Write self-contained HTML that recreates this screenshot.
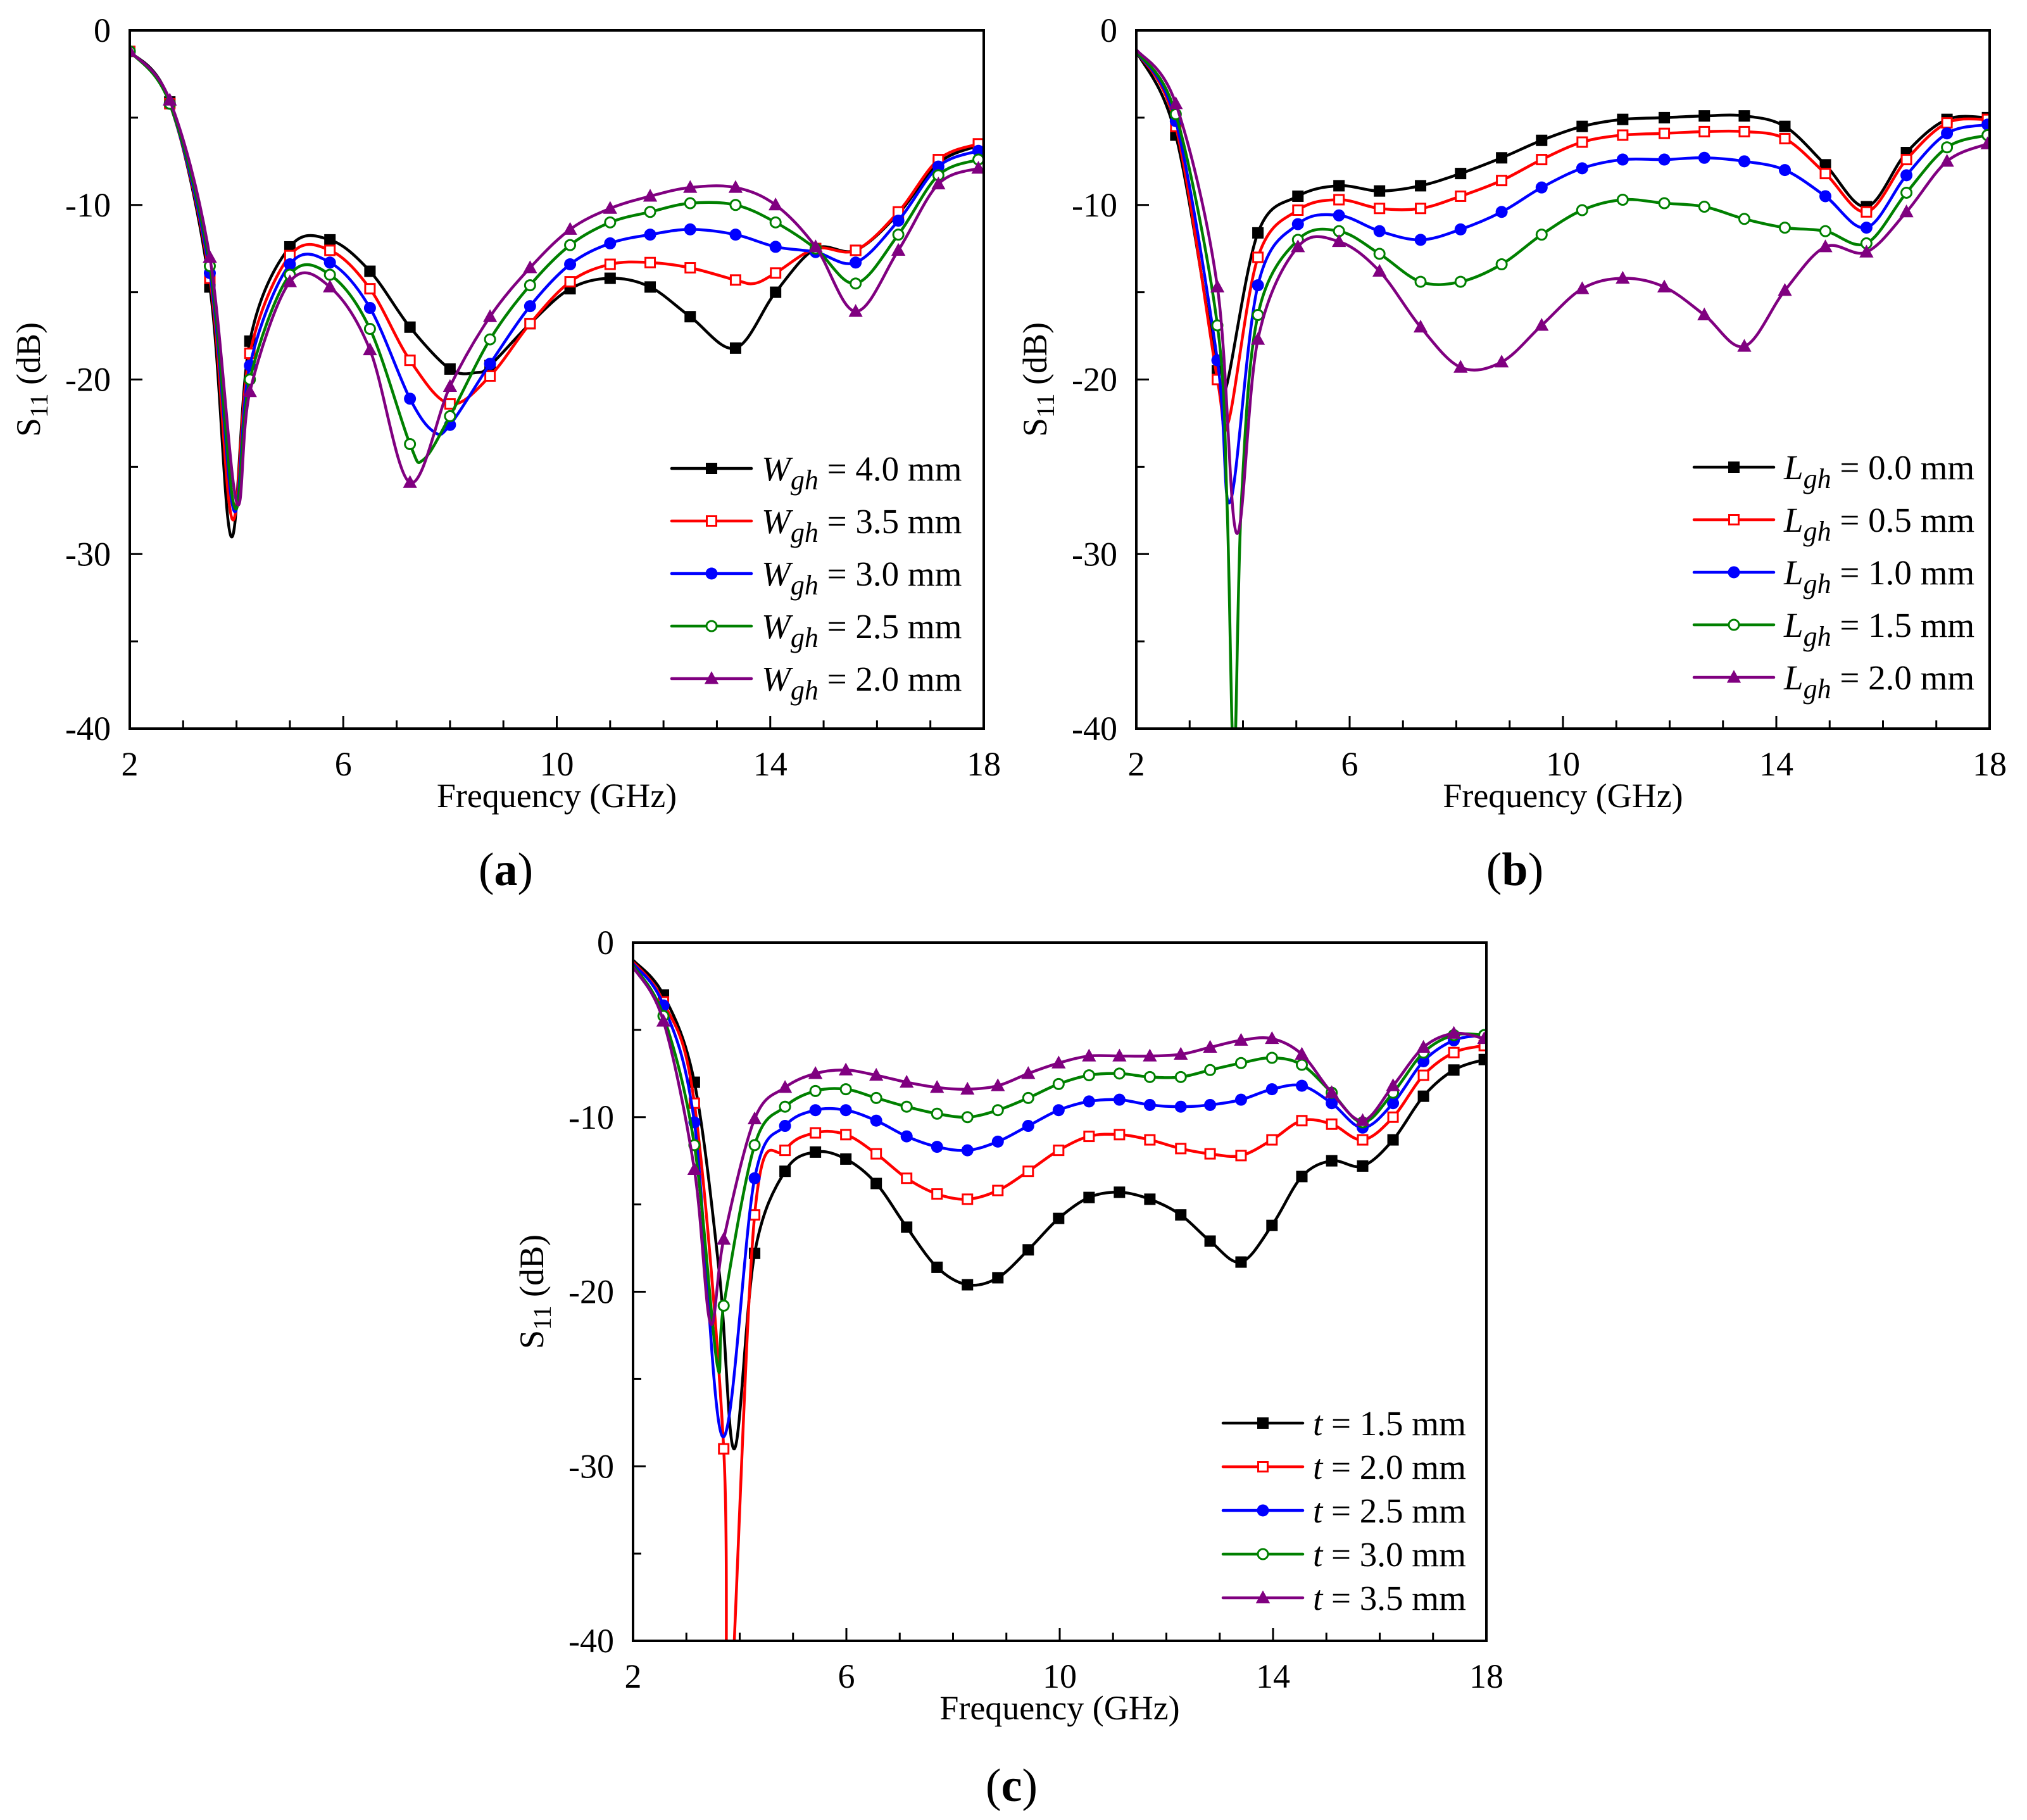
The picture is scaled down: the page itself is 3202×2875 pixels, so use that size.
<!DOCTYPE html>
<html><head><meta charset="utf-8"><style>
html,body{margin:0;padding:0;background:#fff;}
svg{display:block;font-family:"Liberation Serif",serif;}
svg text{font-family:"Liberation Serif",serif;}
</style></head><body>
<svg id="fig" width="3202" height="2875" viewBox="0 0 3202 2875" xmlns="http://www.w3.org/2000/svg" font-family="Liberation Serif, serif"></svg>
<script>
// ===== Panel (a) data: W_gh sweep =====
const aMarkF = [2,2.75,3.5,4.25,5,5.75,6.5,7.25,8,8.75,9.5,10.25,11,11.75,12.5,13.35,14.1,14.85,15.6,16.4,17.15,17.9];
const aF40 = [2,2.75,3.5,3.9,4.25,5,5.75,6.5,7.25,8,8.5,8.75,9.5,10.25,11,11.75,12.5,13.35,14.1,14.85,15.6,16.4,17.15,17.9];
const aV40 = [-1.2,-4.1,-14.7,-29,-17.8,-12.4,-12.0,-13.8,-17.0,-19.4,-19.6,-19.2,-16.8,-14.8,-14.2,-14.7,-16.4,-18.2,-15.0,-12.5,-12.6,-10.5,-7.6,-6.6];
const aF35 = [2,2.75,3.5,3.92,4.25,5,5.75,6.5,7.25,8,8.75,9.5,10.25,11,11.75,12.5,13.35,13.7,14.1,14.85,15.6,16.4,17.15,17.9];
const aV35 = [-1.2,-4.2,-14.2,-28,-18.5,-12.9,-12.6,-14.8,-18.9,-21.4,-19.8,-16.8,-14.4,-13.4,-13.3,-13.6,-14.3,-14.5,-13.9,-12.5,-12.6,-10.4,-7.4,-6.5];
const aF30 = [2,2.75,3.5,3.95,4.25,5,5.75,6.5,7.25,7.7,8,8.75,9.5,10.25,11,11.75,12.5,13.35,14.1,14.85,15.6,16.4,17.15,17.9];
const aV30 = [-1.2,-4.2,-13.9,-27.5,-19.2,-13.4,-13.3,-15.9,-21.1,-23,-22.6,-19.1,-15.8,-13.4,-12.2,-11.7,-11.4,-11.7,-12.4,-12.7,-13.3,-10.9,-7.8,-6.9];
const aF25 = [2,2.75,3.5,3.96,4.25,5,5.75,6.5,7.25,7.5,8,8.75,9.5,10.25,11,11.75,12.5,13.35,14.1,14.85,15.6,16.4,17.15,17.9];
const aV25 = [-1.2,-4.2,-13.5,-27.3,-20.0,-14.0,-14.0,-17.1,-23.7,-24.6,-22.1,-17.7,-14.6,-12.3,-11.0,-10.4,-9.9,-10.0,-11.0,-12.5,-14.5,-11.7,-8.3,-7.4];
const aF20 = [2,2.75,3.5,4.0,4.25,5,5.75,6.5,7.25,8,8.75,9.5,10.25,11,11.75,12.5,13.35,14.1,14.85,15.6,16.4,17.15,17.9];
const aV20 = [-1.2,-4.0,-13.0,-27,-20.7,-14.4,-14.7,-18.3,-25.9,-20.4,-16.4,-13.6,-11.4,-10.2,-9.5,-9.0,-9.0,-10.0,-12.4,-16.1,-12.6,-8.8,-7.9];
// ===== Panel (b) data: L_gh sweep =====
const bMarkF = [2.74,3.52,4.28,5.03,5.8,6.56,7.33,8.08,8.85,9.6,10.36,11.12,11.9,12.65,13.4,14.16,14.92,15.69,16.44,17.2,17.96];
const bF00 = [2,2.74,3.52,3.68,4.28,5.03,5.8,6.56,7.33,8.08,8.85,9.6,10.36,11.12,11.9,12.65,13.4,14.16,14.92,15.69,16.44,17.2,17.96];
const bV00 = [-1.2,-6.0,-19.5,-20.5,-11.6,-9.5,-8.9,-9.2,-8.9,-8.2,-7.3,-6.3,-5.5,-5.1,-5.0,-4.9,-4.9,-5.5,-7.7,-10.1,-7.0,-5.1,-5.0];
const bF05 = [2,2.74,3.52,3.72,4.28,5.03,5.8,6.56,7.33,8.08,8.85,9.6,10.36,11.12,11.9,12.65,13.4,14.16,14.92,15.69,16.44,17.2,17.96];
const bV05 = [-1.2,-5.5,-20.0,-22.5,-13.0,-10.3,-9.7,-10.2,-10.2,-9.5,-8.6,-7.4,-6.4,-6.0,-5.9,-5.8,-5.8,-6.2,-8.2,-10.4,-7.4,-5.3,-5.1];
const bF10 = [2,2.74,3.52,3.76,4.28,5.03,5.8,6.56,7.33,8.08,8.85,9.6,10.36,11.12,11.9,12.65,13.4,14.16,14.92,15.69,16.44,17.2,17.96];
const bV10 = [-1.2,-5.2,-18.9,-27,-14.6,-11.1,-10.6,-11.5,-12.0,-11.4,-10.4,-9.0,-7.9,-7.4,-7.4,-7.3,-7.5,-8.0,-9.5,-11.3,-8.3,-5.9,-5.4];
const bF15 = [2,2.74,3.52,3.7,3.83,3.97,4.28,5.03,5.8,6.56,7.33,8.08,8.85,9.6,10.36,11.12,11.9,12.65,13.4,14.16,14.92,15.69,16.44,17.2,17.96];
const bV15 = [-1.2,-4.8,-16.9,-27,-42,-27,-16.3,-12.0,-11.5,-12.8,-14.4,-14.4,-13.4,-11.7,-10.3,-9.7,-9.9,-10.1,-10.8,-11.3,-11.5,-12.2,-9.3,-6.7,-6.0];
const bF20 = [2,2.74,3.52,3.88,4.28,5.03,5.8,6.56,7.33,8.08,8.85,9.6,10.36,11.12,11.9,12.65,13.4,14.16,14.92,15.69,16.44,17.2,17.96];
const bV20 = [-1.1,-4.2,-14.7,-28.8,-17.7,-12.4,-12.1,-13.8,-17.0,-19.3,-19.0,-16.9,-14.8,-14.2,-14.7,-16.3,-18.1,-14.9,-12.4,-12.7,-10.4,-7.5,-6.5];
// ===== Panel (c) data: t sweep =====
const cMarkF = [2.57,3.15,3.7,4.28,4.85,5.42,5.99,6.56,7.13,7.7,8.27,8.84,9.41,9.98,10.55,11.12,11.69,12.27,12.82,13.4,13.98,14.54,15.1,15.68,16.25,16.82,17.39,17.96];
const cF15 = [2,2.57,3.15,3.62,3.9,4.28,4.85,5.42,5.99,6.56,7.13,7.7,8.27,8.84,9.41,9.98,10.55,11.12,11.69,12.27,12.82,13.4,13.98,14.54,15.1,15.68,16.25,16.82,17.39,17.96];
const cV15 = [-1.0,-3.0,-8.0,-19,-29,-17.8,-13.1,-12.0,-12.4,-13.8,-16.3,-18.6,-19.6,-19.2,-17.6,-15.8,-14.6,-14.3,-14.7,-15.6,-17.1,-18.3,-16.2,-13.4,-12.5,-12.8,-11.3,-8.8,-7.3,-6.7];
const cF20 = [2,2.57,3.15,3.7,3.79,4.28,4.85,5.42,5.99,6.56,7.13,7.7,8.27,8.84,9.41,9.98,10.55,11.12,11.69,12.27,12.82,13.4,13.98,14.54,15.1,15.68,16.25,16.82,17.39,17.96];
const cV20 = [-1.1,-3.4,-9.2,-29,-46,-15.6,-11.9,-10.9,-11.0,-12.1,-13.5,-14.4,-14.7,-14.2,-13.1,-11.9,-11.1,-11.0,-11.3,-11.8,-12.1,-12.2,-11.3,-10.2,-10.4,-11.3,-10.0,-7.6,-6.3,-5.9];
const cF25 = [2,2.57,3.15,3.68,4.28,4.85,5.42,5.99,6.56,7.13,7.7,8.27,8.84,9.41,9.98,10.55,11.12,11.69,12.27,12.82,13.4,13.98,14.54,15.1,15.68,16.25,16.82,17.39,17.96];
const cV25 = [-1.2,-3.6,-10.3,-28.3,-13.5,-10.5,-9.6,-9.6,-10.2,-11.1,-11.7,-11.9,-11.4,-10.5,-9.6,-9.1,-9.0,-9.3,-9.4,-9.3,-9.0,-8.4,-8.2,-9.2,-10.6,-9.2,-6.8,-5.6,-5.3];
const cF30 = [2,2.57,3.15,3.58,3.7,4.28,4.85,5.42,5.99,6.56,7.13,7.7,8.27,8.84,9.41,9.98,10.55,11.12,11.69,12.27,12.82,13.4,13.98,14.54,15.1,15.68,16.25,16.82,17.39,17.96];
const cV30 = [-1.3,-4.2,-11.6,-24.2,-20.8,-11.6,-9.4,-8.5,-8.4,-8.9,-9.4,-9.8,-10.0,-9.6,-8.9,-8.1,-7.6,-7.5,-7.7,-7.7,-7.3,-6.9,-6.6,-7.0,-8.6,-10.3,-8.6,-6.3,-5.3,-5.3];
const cF35 = [2,2.57,3.15,3.45,3.7,4.28,4.85,5.42,5.99,6.56,7.13,7.7,8.27,8.84,9.41,9.98,10.55,11.12,11.69,12.27,12.82,13.4,13.98,14.54,15.1,15.68,16.25,16.82,17.39,17.96];
const cV35 = [-1.4,-4.5,-13.0,-21.8,-17.0,-10.1,-8.3,-7.5,-7.3,-7.6,-8.0,-8.3,-8.4,-8.2,-7.5,-6.9,-6.5,-6.5,-6.5,-6.4,-6.0,-5.6,-5.5,-6.4,-8.6,-10.2,-8.2,-6.0,-5.2,-5.5];
// ===== Axis ticks =====
const xTicks = [2,6,10,14,18];
const yTicks = [0,-10,-20,-30,-40];
const aLabels = ["4.0","3.5","3.0","2.5","2.0"];
const bLabels = ["0.0","0.5","1.0","1.5","2.0"];
const cLabels = ["1.5","2.0","2.5","3.0","3.5"];

const NS="http://www.w3.org/2000/svg";
const svg=document.getElementById('fig');
const colors=["#000000","#ff0000","#0000ff","#008000","#800080"];
const kinds=["sqf","sqo","cif","cio","tri"];
const FF="Liberation Serif, serif";
function mk(tag,attrs,parent){const e=document.createElementNS(NS,tag);for(const k in attrs)e.setAttribute(k,attrs[k]);if(tag==='text')e.setAttribute('font-family',FF);(parent||svg).appendChild(e);return e;}

function marker(g,kind,x,y,col,s){
  let e;
  if(kind==="sqf"){e=mk('rect',{x:x-s/2,y:y-s/2,width:s,height:s,fill:col},g);}
  else if(kind==="sqo"){e=mk('rect',{x:x-s/2+1.5,y:y-s/2+1.5,width:s-3,height:s-3,fill:'#fff',stroke:col,'stroke-width':3},g);}
  else if(kind==="cif"){e=mk('circle',{cx:x,cy:y,r:s/2+0.5,fill:col},g);}
  else if(kind==="cio"){e=mk('circle',{cx:x,cy:y,r:s/2-1,fill:'#fff',stroke:col,'stroke-width':3},g);}
  else {const h=s*1.05;e=mk('polygon',{points:`${x},${y-h*0.62} ${x-s*0.62},${y+h*0.45} ${x+s*0.62},${y+h*0.45}`,fill:col},g);}
  
  
  return e;
}

function smoothPath(pts){
  let d=`M${pts[0][0].toFixed(1)},${pts[0][1].toFixed(1)}`;
  for(let i=0;i<pts.length-1;i++){
    const p0=pts[Math.max(0,i-1)],p1=pts[i],p2=pts[i+1],p3=pts[Math.min(pts.length-1,i+2)];
    const t=1/6;
    const c1=[p1[0]+(p2[0]-p0[0])*t,p1[1]+(p2[1]-p0[1])*t];
    const c2=[p2[0]-(p3[0]-p1[0])*t,p2[1]-(p3[1]-p1[1])*t];
    d+=` C${c1[0].toFixed(1)},${c1[1].toFixed(1)} ${c2[0].toFixed(1)},${c2[1].toFixed(1)} ${p2[0].toFixed(1)},${p2[1].toFixed(1)}`;
  }
  return d;
}

function panel(o){
  const {id,L,T,R,B,series,markF,sym,labels,legX,legY,legStep,letter,letterX,letterY,fs}=o;
  const g=mk('g',{});
  
  
  const sx=f=>L+(f-2)/16*(R-L);
  const sy=v=>T+(-v)/40*(B-T);
  const cp=mk('clipPath',{id:'clip'+id},g);
  mk('rect',{x:L,y:T,width:R-L,height:B-T},cp);
  for(let f=2;f<=18;f++){
    const major=(f-2)%4===0;
    const t=mk('line',{x1:sx(f),x2:sx(f),y1:B,y2:B-(major?20:13),stroke:'#000','stroke-width':3},g);
    
    
  }
  for(let v=0;v>=-40;v-=5){
    const major=v%10===0;
    const t=mk('line',{x1:L,x2:L+(major?20:13),y1:sy(v),y2:sy(v),stroke:'#000','stroke-width':3},g);
    
    
  }
  xTicks.forEach(f=>{
    const t=mk('text',{x:sx(f),y:B+74,'font-size':54,'text-anchor':'middle'},g);t.textContent=String(f);
    
    
  });
  yTicks.forEach(v=>{
    const t=mk('text',{x:L-30,y:sy(v)+18,'font-size':54,'text-anchor':'end'},g);t.textContent=String(v);
    
    
  });
  series.forEach((s,i)=>{
    const sg=mk('g',{'clip-path':`url(#clip${id})`},g);
    
    
    const pts=s.f.map((f,j)=>[sx(f),sy(s.v[j])]);
    const p=mk('path',{d:smoothPath(pts),fill:'none',stroke:colors[i],'stroke-width':4.5,'stroke-linejoin':'round'},sg);
    
    
    s.f.forEach((f,j)=>{
      if(markF.some(m=>Math.abs(m-f)<0.02)) marker(sg,kinds[i],sx(f),sy(s.v[j]),colors[i],18);
    });
  });
  const fr=mk('rect',{x:L,y:T,width:R-L,height:B-T,fill:'none',stroke:'#000','stroke-width':4},g);
  
  
  const xt=mk('text',{x:(L+R)/2,y:B+124,'font-size':54,'text-anchor':'middle'},g);
  xt.textContent='Frequency (GHz)';
  
  
  const yc=(T+B)/2;
  const yt=mk('text',{x:0,y:0,'font-size':54,'text-anchor':'middle',transform:`translate(${L-142},${yc}) rotate(-90)`},g);
  yt.innerHTML='S<tspan font-size="40" dy="12">11</tspan><tspan dy="-12"> (dB)</tspan>';
  
  
  const lg=mk('g',{},g);
  
  
  labels.forEach((lab,i)=>{
    const y=legY+i*legStep;
    const eg=mk('g',{},lg);
    
    
    mk('line',{x1:legX,x2:legX+126,y1:y,y2:y,stroke:colors[i],'stroke-width':4.5,'stroke-linecap':'round'},eg);
    marker(eg,kinds[i],legX+63,y,colors[i],18);
    const t=mk('text',{x:legX+142,y:y+19,'font-size':fs},eg);
    if(sym==='t') t.innerHTML=`<tspan font-style="italic">t</tspan> = ${lab} mm`;
    else t.innerHTML=`<tspan font-style="italic">${sym}</tspan><tspan font-style="italic" font-size="${fs*0.8}" dy="14">gh</tspan><tspan dy="-14"> = ${lab} mm</tspan>`;
  });
  const lt=mk('text',{x:letterX,y:letterY,'font-size':74,'text-anchor':'middle'},g);
  lt.innerHTML='(<tspan font-weight="bold">'+letter+'</tspan>)';
  
  
}

panel({id:'a',L:205,T:48,R:1554,B:1151,
  series:[{f:aF40,v:aV40},{f:aF35,v:aV35},{f:aF30,v:aV30},{f:aF25,v:aV25},{f:aF20,v:aV20}],
  markF:aMarkF,sym:'W',labels:aLabels,legX:1061,legY:740,legStep:83,fs:55,letter:'a',letterX:799,letterY:1398});
panel({id:'b',L:1795,T:48,R:3143,B:1151,
  series:[{f:bF00,v:bV00},{f:bF05,v:bV05},{f:bF10,v:bV10},{f:bF15,v:bV15},{f:bF20,v:bV20}],
  markF:bMarkF,sym:'L',labels:bLabels,legX:2676,legY:738,legStep:83,fs:55,letter:'b',letterX:2393,letterY:1398});
panel({id:'c',L:1000,T:1489,R:2348,B:2592,
  series:[{f:cF15,v:cV15},{f:cF20,v:cV20},{f:cF25,v:cV25},{f:cF30,v:cV30},{f:cF35,v:cV35}],
  markF:cMarkF,sym:'t',labels:cLabels,legX:1932,legY:2248,legStep:69,fs:55,letter:'c',letterX:1598,letterY:2845});
</script>
</body></html>
